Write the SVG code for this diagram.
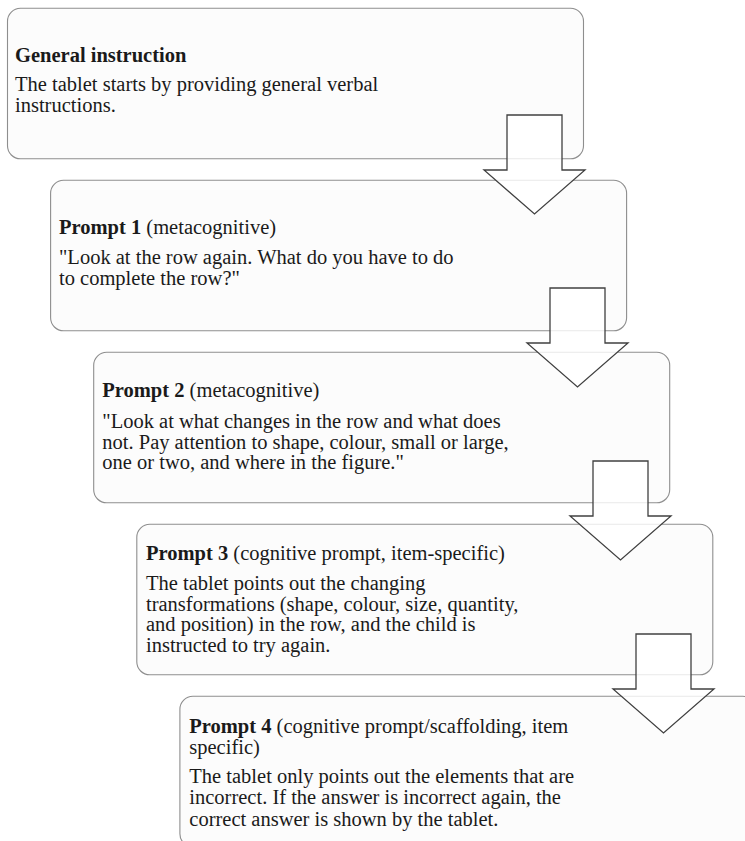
<svg xmlns="http://www.w3.org/2000/svg" width="745" height="841" viewBox="0 0 745 841">
<style>
.box{fill:#fcfcfc;stroke:#8e8e8e;stroke-width:1.1}
.arr{fill:#ffffff;fill-opacity:0.8;stroke:#404040;stroke-width:1.3;stroke-linejoin:miter}
text{font-family:"Liberation Serif","Times New Roman",serif;font-size:20.5px;fill:#1a1a1a}
.b{font-weight:bold}
</style>
<rect width="745" height="841" fill="#ffffff"/>
<g id="node1">
<rect class="box" x="7.5" y="8.3" width="576" height="150.5" rx="13"/>
<text x="15" y="61.5"><tspan class="b">General instruction</tspan></text>
<text x="15" y="91">The tablet starts by providing general verbal</text>
<text x="15" y="112">instructions.</text>
</g>
<g id="node2">
<rect class="box" x="50.6" y="180.3" width="576" height="150.5" rx="13"/>
<text x="59" y="234.3"><tspan class="b">Prompt 1</tspan> (metacognitive)</text>
<text x="59" y="263.5">"Look at the row again. What do you have to do</text>
<text x="59" y="285">to complete the row?"</text>
</g>
<g id="node3">
<rect class="box" x="93.7" y="352.3" width="576" height="150.5" rx="13"/>
<text x="102.3" y="397"><tspan class="b">Prompt 2</tspan> (metacognitive)</text>
<text x="102.3" y="427.8">"Look at what changes in the row and what does</text>
<text x="102.3" y="448.6">not. Pay attention to shape, colour, small or large,</text>
<text x="102.3" y="469.4">one or two, and where in the figure."</text>
</g>
<g id="node4">
<rect class="box" x="136.8" y="524.3" width="576" height="150.5" rx="13"/>
<text x="146" y="559.5"><tspan class="b">Prompt 3</tspan> (cognitive prompt, item-specific)</text>
<text x="146" y="590">The tablet points out the changing</text>
<text x="146" y="610.6">transformations (shape, colour, size, quantity,</text>
<text x="146" y="631.2">and position) in the row, and the child is</text>
<text x="146" y="651.8">instructed to try again.</text>
</g>
<g id="node5">
<rect class="box" x="179.9" y="696.3" width="576" height="150.5" rx="13"/>
<text x="189.3" y="732.7"><tspan class="b">Prompt 4</tspan> (cognitive prompt/scaffolding, item</text>
<text x="189.3" y="754">specific)</text>
<text x="189.3" y="783.3">The tablet only points out the elements that are</text>
<text x="189.3" y="804.3">incorrect. If the answer is incorrect again, the</text>
<text x="189.3" y="825.5">correct answer is shown by the tablet.</text>
</g>
<g id="connectors">
<path class="arr" d="M507,115 H562 V170 H585 L534.5,214 L484,170 H507 Z"/>
<path class="arr" d="M550,288 H605 V343 H628 L577.5,387 L527,343 H550 Z"/>
<path class="arr" d="M593,461 H648 V516 H671 L620.5,560 L570,516 H593 Z"/>
<path class="arr" d="M636,634 H691 V689 H714 L663.5,733 L613,689 H636 Z"/>
</g>
</svg>
